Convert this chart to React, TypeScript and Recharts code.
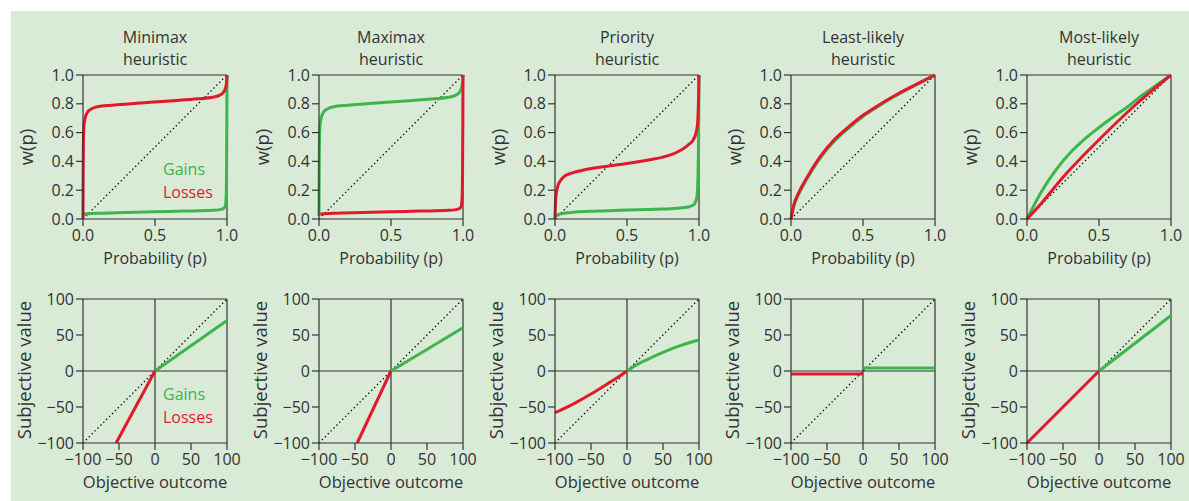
import React from 'react';
import { LineChart, Line, XAxis, YAxis, ReferenceLine } from 'recharts';

// ---------- data ----------
const titles = ['Minimax', 'Maximax', 'Priority', 'Least-likely', 'Most-likely'];
const probTicks = [0, 0.5, 1];
const weightTicks = [0, 0.2, 0.4, 0.6, 0.8, 1];
const outcomeTicks = [-100, -50, 0, 50, 100];
const valueTicks = [-100, -50, 0, 50, 100];

const probDiagonal = [[0, 0], [1, 1]];
const outcomeDiagonal = [[-100, -100], [100, 100]];

// weighting functions w(p)
const minimaxGainsW = [[0, 0.035], [0.1, 0.04], [0.3, 0.045], [0.5, 0.05], [0.7, 0.055], [0.9, 0.06], [0.95, 0.065], [0.975, 0.072], [0.988, 0.09], [0.994, 0.15], [0.997, 0.35], [0.999, 0.7], [1, 1]];
const minimaxLossesW = [[0, 0], [0.001, 0.3], [0.003, 0.55], [0.007, 0.65], [0.015, 0.7], [0.03, 0.74], [0.06, 0.765], [0.1, 0.78], [0.2, 0.79], [0.4, 0.805], [0.6, 0.82], [0.8, 0.835], [0.9, 0.845], [0.95, 0.86], [0.975, 0.88], [0.99, 0.91], [0.997, 0.95], [1, 1]];
const maximaxGainsW = [[0, 0.02], [0.001, 0.3], [0.003, 0.55], [0.007, 0.65], [0.015, 0.7], [0.03, 0.74], [0.06, 0.765], [0.1, 0.78], [0.2, 0.79], [0.4, 0.805], [0.6, 0.82], [0.8, 0.835], [0.9, 0.845], [0.95, 0.86], [0.975, 0.88], [0.99, 0.91], [0.997, 0.95], [1, 1]];
const maximaxLossesW = [[0.01, 0.035], [0.1, 0.04], [0.3, 0.045], [0.5, 0.05], [0.7, 0.055], [0.9, 0.06], [0.95, 0.065], [0.975, 0.072], [0.988, 0.09], [0.994, 0.15], [0.997, 0.35], [0.999, 0.7], [1, 1]];
const priorityGainsW = [[0.005, 0.02], [0.02, 0.03], [0.1, 0.044], [0.3, 0.055], [0.5, 0.062], [0.7, 0.068], [0.85, 0.075], [0.93, 0.085], [0.965, 0.1], [0.985, 0.15], [0.993, 0.3], [0.997, 0.55], [1, 1]];
const priorityLossesW = [[0, 0], [0.003, 0.1], [0.008, 0.17], [0.02, 0.23], [0.04, 0.27], [0.07, 0.3], [0.12, 0.32], [0.2, 0.34], [0.35, 0.365], [0.5, 0.385], [0.65, 0.41], [0.75, 0.43], [0.85, 0.465], [0.92, 0.51], [0.96, 0.55], [0.98, 0.6], [0.99, 0.66], [0.996, 0.8], [1, 1]];
const leastGainsW = [[0, 0], [0.02, 0.09], [0.05, 0.165], [0.1, 0.26], [0.2, 0.42], [0.3, 0.54], [0.4, 0.632], [0.5, 0.712], [0.6, 0.778], [0.7, 0.84], [0.8, 0.895], [0.9, 0.947], [1, 1]];
const leastLossesW = [[0, 0], [0.02, 0.1], [0.05, 0.175], [0.1, 0.27], [0.2, 0.43], [0.3, 0.55], [0.4, 0.64], [0.5, 0.72], [0.6, 0.785], [0.7, 0.845], [0.8, 0.9], [0.9, 0.95], [1, 1]];
const mostGainsW = [[0, 0], [0.1, 0.19], [0.2, 0.34], [0.3, 0.46], [0.4, 0.555], [0.5, 0.635], [0.6, 0.71], [0.7, 0.78], [0.8, 0.86], [0.9, 0.93], [1, 1]];
const mostLossesW = [[0, 0], [0.1, 0.11], [0.25, 0.29], [0.5, 0.55], [0.75, 0.79], [1, 1]];

// value functions v(x)
const minimaxGainsV = [[0, 0], [100, 70]];
const minimaxLossesV = [[-54, -100], [0, 0]];
const maximaxGainsV = [[0, 0], [100, 60]];
const maximaxLossesV = [[-47, -100], [0, 0]];
const priorityGainsV = [[0, 0], [10, 6.5], [25, 14.5], [50, 26], [75, 35.5], [100, 43]];
const priorityLossesV = [[-100, -58], [-75, -46], [-50, -32], [-25, -16.5], [-10, -7], [0, 0]];
const leastGainsV = [[0, 4], [100, 4]];
const leastLossesV = [[-100, -4], [0, -4]];
const mostGainsV = [[0, 0], [100, 77]];
const mostLossesV = [[-100, -100], [0, 0]];

const weightGains = [minimaxGainsW, maximaxGainsW, priorityGainsW, leastGainsW, mostGainsW];
const weightLosses = [minimaxLossesW, maximaxLossesW, priorityLossesW, leastLossesW, mostLossesW];
const valueGains = [minimaxGainsV, maximaxGainsV, priorityGainsV, leastGainsV, mostGainsV];
const valueLosses = [minimaxLossesV, maximaxLossesV, priorityLossesV, leastLossesV, mostLossesV];

// ---------- style ----------
const GREEN = '#3db54a';
const RED = '#e2192d';
const INK = '#333333';
const BG = '#d9ead7';
const FONT = '"Open Sans", "Noto Sans", sans-serif';

const PLOT_LEFTS = [83, 319, 555, 791, 1027];
const PLOT = 144;
const TOP_ROW = 75;
const BOTTOM_ROW = 299;
const Y_AXIS_W = 60;
const M_TOP = 14;
const M_RIGHT = 24;

const toPts = (arr: number[][]) => arr.map(([x, y]) => ({ x, y }));
const minus = (v: number) => String(v).replace('-', '\u2212');

type PanelProps = {
  left: number;
  top: number;
  prob: boolean;
  gains: number[][];
  losses: number[][];
};

function Panel({ left, top, prob, gains, losses }: PanelProps) {
  const dom: [number, number] = prob ? [0, 1] : [-100, 100];
  const xt = prob ? probTicks : outcomeTicks;
  const yt = prob ? weightTicks : valueTicks;
  const xf = prob ? (v: number) => v.toFixed(1) : minus;
  const yf = prob ? (v: number) => v.toFixed(1) : minus;
  const axisStyle = { stroke: INK, strokeWidth: 1.2 };
  const tickStyle = { fill: INK, fontSize: 16, fontFamily: FONT };
  return (
    <div style={{ position: 'absolute', left: left - Y_AXIS_W, top: top - M_TOP }}>
      <LineChart width={Y_AXIS_W + PLOT + M_RIGHT} height={M_TOP + PLOT + 32} margin={{ top: M_TOP, right: M_RIGHT, bottom: 0, left: 0 }}>
        <XAxis type="number" dataKey="x" domain={dom} ticks={xt} interval={0} tickFormatter={xf}
          height={32} tickSize={7} tickMargin={4} axisLine={axisStyle} tickLine={axisStyle} tick={tickStyle} />
        <YAxis type="number" dataKey="y" domain={dom} ticks={yt} interval={0} tickFormatter={yf}
          width={Y_AXIS_W} tickSize={7} tickMargin={2} axisLine={axisStyle} tickLine={axisStyle} tick={tickStyle} />
        <ReferenceLine y={dom[1]} stroke={INK} strokeWidth={1.2} />
        <ReferenceLine x={dom[1]} stroke={INK} strokeWidth={1.2} />
        {!prob && <ReferenceLine y={0} stroke={INK} strokeWidth={1.2} />}
        {!prob && <ReferenceLine x={0} stroke={INK} strokeWidth={1.2} />}
        <Line data={toPts(prob ? probDiagonal : outcomeDiagonal)} dataKey="y" type="linear" stroke="#111" strokeWidth={1.3}
          strokeDasharray="1.5 2.6" dot={false} activeDot={false} isAnimationActive={false} />
        <Line data={toPts(gains)} dataKey="y" type="monotone" stroke={GREEN} strokeWidth={3}
          dot={false} activeDot={false} isAnimationActive={false} />
        <Line data={toPts(losses)} dataKey="y" type="monotone" stroke={RED} strokeWidth={3}
          dot={false} activeDot={false} isAnimationActive={false} />
      </LineChart>
    </div>
  );
}

export default function App() {
  const textBase = { fontFamily: FONT, fill: INK } as const;
  return (
    <div style={{ position: 'absolute', left: 0, top: 0, width: 1189, height: 501, background: '#ffffff', overflow: 'hidden' }}>
      <div style={{ position: 'absolute', left: 11, top: 11, width: 1178, height: 490, background: BG }} />
      {PLOT_LEFTS.map((l, i) => (
        <Panel key={'w' + i} left={l} top={TOP_ROW} prob={true} gains={weightGains[i]} losses={weightLosses[i]} />
      ))}
      {PLOT_LEFTS.map((l, i) => (
        <Panel key={'v' + i} left={l} top={BOTTOM_ROW} prob={false} gains={valueGains[i]} losses={valueLosses[i]} />
      ))}
      <svg width={1189} height={501} style={{ position: 'absolute', left: 0, top: 0, pointerEvents: 'none' }}>
        {PLOT_LEFTS.map((l, i) => (
          <g key={'t' + i}>
            <text x={l + PLOT / 2} y={43} textAnchor="middle" fontSize={16} {...textBase}>{titles[i]}</text>
            <text x={l + PLOT / 2} y={65} textAnchor="middle" fontSize={16} {...textBase}>heuristic</text>
            <text x={l + PLOT / 2} y={264} textAnchor="middle" fontSize={16} {...textBase}>Probability (p)</text>
            <text transform={`translate(${l - 50},${TOP_ROW + PLOT / 2}) rotate(-90)`} textAnchor="middle" fontSize={18.5} {...textBase}>w(p)</text>
            <text x={l + PLOT / 2} y={488} textAnchor="middle" fontSize={16.5} {...textBase}>Objective outcome</text>
            <text transform={`translate(${l - 52},${BOTTOM_ROW + PLOT / 2 - 1}) rotate(-90)`} textAnchor="middle" fontSize={18.5}
              {...textBase}>Subjective value</text>
          </g>
        ))}
        <text x={163} y={175} fontSize={16} fontFamily={FONT} fill={GREEN}>Gains</text>
        <text x={163} y={197.5} fontSize={16} fontFamily={FONT} fill={RED}>Losses</text>
        <text x={163} y={400} fontSize={16} fontFamily={FONT} fill={GREEN}>Gains</text>
        <text x={163} y={422.5} fontSize={16} fontFamily={FONT} fill={RED}>Losses</text>
      </svg>
    </div>
  );
}
